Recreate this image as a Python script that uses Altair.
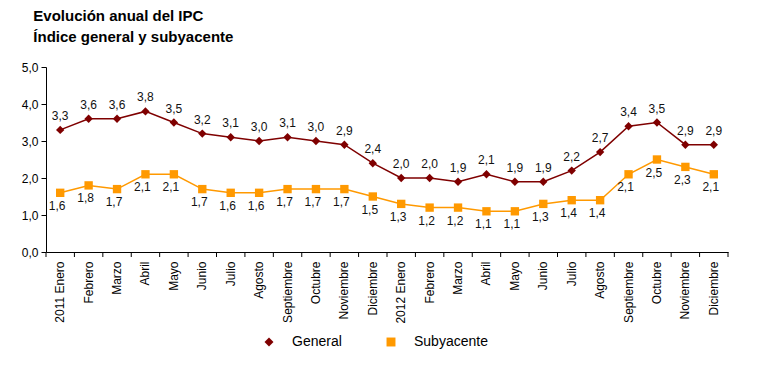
import altair as alt
import pandas as pd

anios = ["2011", "2012"]
meses = ["Enero", "Febrero", "Marzo", "Abril", "Mayo", "Junio", "Julio",
         "Agosto", "Septiembre", "Octubre", "Noviembre", "Diciembre"]
general = [3.3, 3.6, 3.6, 3.8, 3.5, 3.2, 3.1, 3.0, 3.1, 3.0, 2.9, 2.4,
           2.0, 2.0, 1.9, 2.1, 1.9, 1.9, 2.2, 2.7, 3.4, 3.5, 2.9, 2.9]
subyacente = [1.6, 1.8, 1.7, 2.1, 2.1, 1.7, 1.6, 1.6, 1.7, 1.7, 1.7, 1.5,
              1.3, 1.2, 1.2, 1.1, 1.1, 1.3, 1.4, 1.4, 2.1, 2.5, 2.3, 2.1]
series = ["General", "Subyacente"]
colores = ["#7f0000", "#ff9900"]
formas = ["diamond", "square"]

periodos = [f"{a} {m}" for a in anios for m in meses]
rows = []
for s, vals in zip(series, [general, subyacente]):
    for p, v in zip(periodos, vals):
        rows.append({"periodo": p, "serie": s, "valor": v,
                     "etiqueta": f"{v:.1f}".replace(".", ",")})
df = pd.DataFrame(rows)

color_scale = alt.Scale(domain=series, range=colores)
shape_scale = alt.Scale(domain=series, range=formas)

W, H = 682, 185
half_step = W / len(periodos) / 2
x_scale = alt.Scale(type="band", paddingInner=0, paddingOuter=0)
x_axis = alt.Axis(title=None, labelAngle=-90, labelFontSize=12,
                  labelColor="#000", ticks=False, domainColor="#000",
                  labelPadding=9,
                  labelExpr="indexof(datum.value, 'Enero') >= 0 ? datum.value : split(datum.value, ' ')[1]")
x = alt.X("periodo:N", sort=periodos, scale=x_scale, axis=x_axis)
y = alt.Y("valor:Q", scale=alt.Scale(domain=[0, 5], nice=False),
          axis=alt.Axis(title=None, values=[0, 1, 2, 3, 4, 5], grid=False,
                        tickSize=5, tickColor="#000", domainColor="#000",
                        labelFontSize=12, labelColor="#000", labelPadding=3,
                        labelExpr="replace(format(datum.value, '.1f'), '.', ',')"))

base = alt.Chart(df)
gen = base.transform_filter(alt.datum.serie == "General")
sub = base.transform_filter(alt.datum.serie == "Subyacente")

# x-axis tick marks at the band boundaries
ticks_start = gen.mark_rule(color="#000", strokeWidth=1, xOffset=-half_step).encode(
    x=x, y=alt.value(H), y2=alt.value(H + 5))
ticks_end = gen.transform_filter(alt.datum.periodo == periodos[-1]).mark_rule(
    color="#000", strokeWidth=1, xOffset=half_step).encode(
    x=x, y=alt.value(H), y2=alt.value(H + 5))

line_g = gen.mark_line(strokeWidth=1.5, color=colores[0]).encode(x=x, y=y)
line_s = sub.mark_line(strokeWidth=1.5, color=colores[1]).encode(x=x, y=y)

pts = base.mark_point(filled=True, size=70, opacity=1).encode(
    x=x, y=y,
    color=alt.Color("serie:N", scale=color_scale,
                    legend=alt.Legend(title=None, orient="none", legendX=216,
                                      legendY=268, direction="horizontal",
                                      labelFontSize=14, labelColor="#000",
                                      columnPadding=42, labelOffset=16,
                                      symbolSize=80)),
    shape=alt.Shape("serie:N", scale=shape_scale))

txt_g = gen.mark_text(dy=-14, fontSize=12, color="#111").encode(
    x=x, y=y, text="etiqueta:N")
txt_s = sub.mark_text(dy=13, dx=-3, fontSize=12, color="#111").encode(
    x=x, y=y, text="etiqueta:N")

chart = alt.layer(ticks_start, ticks_end, line_g, line_s, pts, txt_g, txt_s).properties(
    width=W, height=H,
    padding={"left": 13, "top": 1, "right": 5, "bottom": 5},
    title=alt.TitleParams(["Evolución anual del IPC", "Índice general y subyacente"],
                          anchor="start", fontSize=15, fontWeight="bold",
                          lineHeight=21, dx=12, offset=16, color="#000"),
).configure(font="Liberation Sans").configure_view(stroke=None)

chart.save("out.html", embed_options={"renderer": "svg", "actions": False})
